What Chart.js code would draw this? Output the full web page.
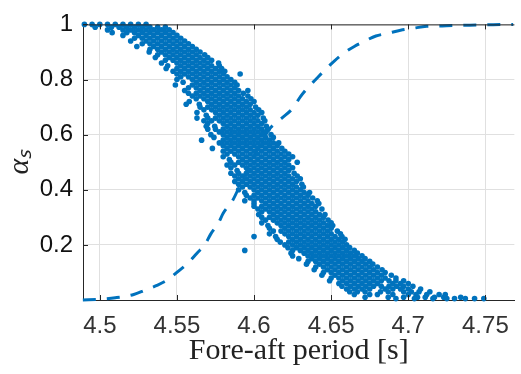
<!DOCTYPE html>
<html>
<head>
<meta charset="utf-8">
<script src="https://cdn.jsdelivr.net/npm/chart.js@4.4.0/dist/chart.umd.min.js"></script>
<style>
  html, body { margin: 0; padding: 0; background: #fff; }
</style>
</head>
<body>
<canvas id="chart" width="521" height="374"></canvas>
<script>
// alpha_s level of each row of samples
const alphaLevels = [1.00, 0.99, 0.98, 0.97, 0.96, 0.95, 0.94, 0.93, 0.92, 0.91,
  0.90, 0.89, 0.88, 0.87, 0.86, 0.85, 0.84, 0.83, 0.82, 0.81,
  0.80, 0.79, 0.78, 0.77, 0.76, 0.75, 0.74, 0.73, 0.72, 0.71,
  0.70, 0.69, 0.68, 0.67, 0.66, 0.65, 0.64, 0.63, 0.62, 0.61,
  0.60, 0.59, 0.58, 0.57, 0.56, 0.55, 0.54, 0.53, 0.52, 0.51,
  0.50, 0.49, 0.48, 0.47, 0.46, 0.45, 0.44, 0.43, 0.42, 0.41,
  0.40, 0.39, 0.38, 0.37, 0.36, 0.35, 0.34, 0.33, 0.32, 0.31,
  0.30, 0.29, 0.28, 0.27, 0.26, 0.25, 0.24, 0.23, 0.22, 0.21,
  0.20, 0.19, 0.18, 0.17, 0.16, 0.15, 0.14, 0.13, 0.12, 0.11,
  0.10, 0.09, 0.08, 0.07, 0.06, 0.05, 0.04, 0.03, 0.02, 0.01, 0.005];

// fore-aft periods of the samples in each row
const periodRows = [
  [4.490, 4.495, 4.500, 4.505, 4.510, 4.515, 4.520, 4.525, 4.530],
  [4.497, 4.5075, 4.5125, 4.5175, 4.5225, 4.5275, 4.5325, 4.5375, 4.5425],
  [4.505, 4.515, 4.520, 4.525, 4.530, 4.535, 4.540, 4.545],
  [4.508, 4.5175, 4.5225, 4.5275, 4.5325, 4.5375, 4.5425, 4.5475],
  [4.515, 4.525, 4.530, 4.535, 4.540, 4.545, 4.550],
  [4.5225, 4.5275, 4.5325, 4.5375, 4.5425, 4.5475, 4.5525],
  [4.520, 4.530, 4.535, 4.540, 4.545, 4.550, 4.555],
  [4.5275, 4.5325, 4.5375, 4.5425, 4.5475, 4.5525, 4.5575],
  [4.524, 4.535, 4.540, 4.545, 4.550, 4.555, 4.560],
  [4.5325, 4.5375, 4.5425, 4.5475, 4.5525, 4.5575, 4.5625],
  [4.532, 4.540, 4.545, 4.550, 4.555, 4.560, 4.565],
  [4.5375, 4.5425, 4.5475, 4.5525, 4.5575, 4.5625, 4.568],
  [4.536, 4.545, 4.550, 4.555, 4.560, 4.565, 4.570],
  [4.5425, 4.5475, 4.5525, 4.5575, 4.5625, 4.5675, 4.5725],
  [4.540, 4.550, 4.555, 4.560, 4.565, 4.570, 4.577],
  [4.544, 4.5525, 4.5575, 4.5625, 4.5675, 4.5725, 4.5775],
  [4.543, 4.550, 4.555, 4.560, 4.565, 4.570, 4.575, 4.579],
  [4.5475, 4.5525, 4.5575, 4.5625, 4.5675, 4.5725, 4.5775, 4.581],
  [4.550, 4.555, 4.560, 4.565, 4.570, 4.575, 4.580, 4.591],
  [4.5525, 4.5575, 4.5625, 4.5675, 4.5725, 4.5775, 4.5825],
  [4.550, 4.560, 4.565, 4.570, 4.575, 4.580, 4.585],
  [4.554, 4.5625, 4.5675, 4.5725, 4.5775, 4.5825, 4.5875],
  [4.549, 4.560, 4.565, 4.570, 4.575, 4.580, 4.585, 4.589],
  [4.5575, 4.5625, 4.5675, 4.5725, 4.5775, 4.5825, 4.5875],
  [4.555, 4.565, 4.570, 4.575, 4.580, 4.585, 4.590, 4.596],
  [4.5575, 4.5625, 4.5675, 4.5725, 4.5775, 4.5825, 4.5875, 4.593],
  [4.560, 4.565, 4.570, 4.575, 4.580, 4.585, 4.590, 4.596],
  [4.5625, 4.5675, 4.5725, 4.5775, 4.5825, 4.5875, 4.5925, 4.598],
  [4.558, 4.570, 4.575, 4.580, 4.585, 4.590, 4.595, 4.600],
  [4.556, 4.5645, 4.5725, 4.5775, 4.5825, 4.5875, 4.5925, 4.5975],
  [4.565, 4.570, 4.575, 4.580, 4.585, 4.590, 4.595, 4.601],
  [4.5675, 4.5725, 4.5775, 4.5825, 4.5875, 4.5925, 4.5975, 4.603],
  [4.563, 4.575, 4.580, 4.585, 4.590, 4.595, 4.600, 4.605],
  [4.569, 4.5775, 4.5825, 4.5875, 4.5925, 4.5975, 4.6025],
  [4.563, 4.570, 4.575, 4.580, 4.585, 4.590, 4.595, 4.600, 4.606],
  [4.5675, 4.5725, 4.5775, 4.5825, 4.5875, 4.5925, 4.5975, 4.6025, 4.607],
  [4.570, 4.580, 4.585, 4.590, 4.595, 4.600, 4.605],
  [4.569, 4.5745, 4.5825, 4.5875, 4.5925, 4.5975, 4.6025, 4.608],
  [4.570, 4.575, 4.580, 4.585, 4.590, 4.595, 4.600, 4.605, 4.609],
  [4.5775, 4.5825, 4.5875, 4.5925, 4.5975, 4.6025, 4.6075],
  [4.572, 4.580, 4.585, 4.590, 4.595, 4.600, 4.605, 4.611],
  [4.574, 4.5825, 4.5875, 4.5925, 4.5975, 4.6025, 4.6075, 4.6125],
  [4.566, 4.580, 4.585, 4.590, 4.595, 4.600, 4.605, 4.610],
  [4.5775, 4.5825, 4.5875, 4.5925, 4.5975, 4.6025, 4.6075, 4.6125, 4.616],
  [4.580, 4.585, 4.590, 4.595, 4.600, 4.605, 4.610, 4.615],
  [4.573, 4.5825, 4.5875, 4.5925, 4.5975, 4.6025, 4.6075, 4.6125, 4.618],
  [4.580, 4.585, 4.590, 4.595, 4.600, 4.605, 4.610, 4.615, 4.620],
  [4.5825, 4.5875, 4.5925, 4.5975, 4.6025, 4.6075, 4.6125, 4.6175, 4.6225],
  [4.580, 4.590, 4.595, 4.600, 4.605, 4.610, 4.615, 4.620, 4.625],
  [4.584, 4.5925, 4.5975, 4.6025, 4.6075, 4.6125, 4.6175, 4.6225],
  [4.585, 4.590, 4.595, 4.600, 4.605, 4.610, 4.615, 4.620, 4.628],
  [4.5825, 4.5875, 4.5925, 4.5975, 4.6025, 4.6075, 4.6125, 4.6175, 4.6225],
  [4.585, 4.595, 4.600, 4.605, 4.610, 4.615, 4.620, 4.625],
  [4.589, 4.5975, 4.6025, 4.6075, 4.6125, 4.6175, 4.6225],
  [4.585, 4.590, 4.595, 4.600, 4.605, 4.610, 4.615, 4.620, 4.626],
  [4.5875, 4.5925, 4.5975, 4.6025, 4.6075, 4.6125, 4.6175, 4.6225, 4.628],
  [4.590, 4.595, 4.600, 4.605, 4.610, 4.615, 4.620, 4.625, 4.630],
  [4.5875, 4.5925, 4.5975, 4.6025, 4.6075, 4.6125, 4.6175, 4.6225, 4.6275],
  [4.590, 4.595, 4.600, 4.605, 4.610, 4.615, 4.620, 4.625, 4.631],
  [4.5925, 4.5975, 4.6025, 4.6075, 4.6125, 4.6175, 4.6225, 4.6275, 4.632],
  [4.590, 4.600, 4.605, 4.610, 4.615, 4.620, 4.625, 4.630],
  [4.594, 4.6025, 4.6075, 4.6125, 4.6175, 4.6225, 4.6275, 4.6325, 4.636],
  [4.595, 4.600, 4.605, 4.610, 4.615, 4.620, 4.625, 4.630, 4.635],
  [4.5975, 4.6025, 4.6075, 4.6125, 4.6175, 4.6225, 4.6275, 4.6325, 4.638],
  [4.594, 4.600, 4.605, 4.610, 4.615, 4.620, 4.625, 4.630, 4.635, 4.641],
  [4.600, 4.6075, 4.6125, 4.6175, 4.6225, 4.6275, 4.6325, 4.6375, 4.642],
  [4.600, 4.605, 4.610, 4.615, 4.620, 4.625, 4.630, 4.635, 4.640],
  [4.6025, 4.6075, 4.6125, 4.6175, 4.6225, 4.6275, 4.6325, 4.6375, 4.644],
  [4.605, 4.610, 4.615, 4.620, 4.625, 4.630, 4.635, 4.640],
  [4.603, 4.6125, 4.6175, 4.6225, 4.6275, 4.6325, 4.6375, 4.6425, 4.646],
  [4.605, 4.610, 4.615, 4.620, 4.625, 4.630, 4.635, 4.640, 4.645],
  [4.6075, 4.6125, 4.6175, 4.6225, 4.6275, 4.6325, 4.6375, 4.6425, 4.648],
  [4.605, 4.615, 4.620, 4.625, 4.630, 4.635, 4.640, 4.645, 4.650],
  [4.609, 4.6175, 4.6225, 4.6275, 4.6325, 4.6375, 4.6425, 4.6475, 4.651],
  [4.610, 4.620, 4.625, 4.630, 4.635, 4.640, 4.645, 4.650],
  [4.6125, 4.6175, 4.6225, 4.6275, 4.6325, 4.6375, 4.6425, 4.6475, 4.654],
  [4.610, 4.620, 4.625, 4.630, 4.635, 4.640, 4.645, 4.650, 4.656],
  [4.600, 4.614, 4.6225, 4.6275, 4.6325, 4.6375, 4.6425, 4.6475, 4.6525, 4.657],
  [4.615, 4.625, 4.630, 4.635, 4.640, 4.645, 4.650, 4.655, 4.659],
  [4.617, 4.6225, 4.6275, 4.6325, 4.6375, 4.6425, 4.6475, 4.6525, 4.6575],
  [4.620, 4.625, 4.630, 4.635, 4.640, 4.645, 4.650, 4.655, 4.660],
  [4.622, 4.6275, 4.6325, 4.6375, 4.6425, 4.6475, 4.6525, 4.6575, 4.662],
  [4.594, 4.625, 4.630, 4.635, 4.640, 4.645, 4.650, 4.655, 4.660, 4.665],
  [4.624, 4.6325, 4.6375, 4.6425, 4.6475, 4.6525, 4.6575, 4.6625, 4.667],
  [4.625, 4.635, 4.640, 4.645, 4.650, 4.655, 4.660, 4.665, 4.670],
  [4.629, 4.6375, 4.6425, 4.6475, 4.6525, 4.6575, 4.6625, 4.6675, 4.672],
  [4.635, 4.640, 4.645, 4.650, 4.655, 4.660, 4.665, 4.670, 4.675],
  [4.634, 4.6425, 4.6475, 4.6525, 4.6575, 4.6625, 4.6675, 4.6725, 4.677],
  [4.640, 4.645, 4.650, 4.655, 4.660, 4.665, 4.670, 4.675, 4.680],
  [4.639, 4.6475, 4.6525, 4.6575, 4.6625, 4.6675, 4.6725, 4.6775, 4.683],
  [4.645, 4.650, 4.655, 4.660, 4.665, 4.670, 4.675, 4.680, 4.685],
  [4.644, 4.6525, 4.6575, 4.6625, 4.6675, 4.6725, 4.6775, 4.6825, 4.689],
  [4.650, 4.655, 4.660, 4.665, 4.670, 4.675, 4.680, 4.685, 4.692],
  [4.649, 4.6575, 4.6625, 4.6675, 4.6725, 4.6775, 4.6825, 4.6875, 4.692, 4.697],
  [4.655, 4.660, 4.665, 4.670, 4.675, 4.680, 4.690, 4.695, 4.700],
  [4.657, 4.6625, 4.6675, 4.6725, 4.6775, 4.6825, 4.6875, 4.6925, 4.697, 4.703],
  [4.660, 4.665, 4.670, 4.675, 4.685, 4.690, 4.695, 4.700, 4.708],
  [4.662, 4.667, 4.672, 4.682, 4.687, 4.697, 4.702, 4.707, 4.714],
  [4.665, 4.675, 4.680, 4.690, 4.700, 4.705, 4.712, 4.720, 4.724],
  [4.672, 4.687, 4.697, 4.706, 4.711, 4.717, 4.723, 4.734],
  [4.692, 4.704, 4.716, 4.725, 4.730, 4.737, 4.743, 4.749]
];

// dashed curve
const curvePeriod = [4.489, 4.500, 4.510, 4.522, 4.529, 4.537, 4.545, 4.551, 4.557, 4.563,
  4.568, 4.572, 4.577, 4.580, 4.586, 4.592, 4.598, 4.604, 4.610, 4.618,
  4.625, 4.630, 4.634, 4.640, 4.646, 4.652, 4.658, 4.665, 4.671, 4.679,
  4.687, 4.695, 4.703, 4.712, 4.720, 4.729, 4.740, 4.755, 4.768];
const curveAlpha = [0.000, 0.003, 0.008, 0.020, 0.035, 0.053, 0.077, 0.105, 0.133, 0.170,
  0.200, 0.240, 0.280, 0.315, 0.360, 0.430, 0.500, 0.565, 0.620, 0.660,
  0.695, 0.737, 0.765, 0.800, 0.835, 0.867, 0.895, 0.920, 0.937, 0.958,
  0.968, 0.979, 0.986, 0.993, 0.994, 0.996, 0.997, 0.999, 1.000];

const xTicks = [4.5, 4.55, 4.6, 4.65, 4.7, 4.75];
const yTicks = [0.2, 0.4, 0.6, 0.8, 1];

const blue = '#0072BD';
const axisColor = '#262626';

var samples = [];
alphaLevels.forEach(function (a, i) {
    periodRows[i].forEach(function (p) { samples.push({ x: p, y: a }); });
});
var curve = curvePeriod.map(function (p, i) { return { x: p, y: curveAlpha[i] }; });

// box top edge and inward tick marks, like the original axes
const frame = {
    id: 'frame',
    afterDraw: function (chart) {
        const ctx = chart.ctx, a = chart.chartArea;
        const x = chart.scales.x, y = chart.scales.y;
        ctx.save();
        ctx.strokeStyle = axisColor;
        ctx.lineWidth = 1;
        ctx.beginPath();
        ctx.moveTo(a.left, a.top + 0.5);
        ctx.lineTo(a.right, a.top + 0.5);
        xTicks.forEach(function (v) {
            const px = Math.round(x.getPixelForValue(v)) + 0.5;
            ctx.moveTo(px, a.bottom); ctx.lineTo(px, a.bottom - 5);
            ctx.moveTo(px, a.top); ctx.lineTo(px, a.top + 5);
        });
        yTicks.forEach(function (v) {
            const py = Math.round(y.getPixelForValue(v)) + 0.5;
            ctx.moveTo(a.left, py); ctx.lineTo(a.left + 5, py);
        });
        ctx.stroke();
        ctx.restore();
    }
};

new Chart(document.getElementById('chart'), {
    type: 'scatter',
    data: {
        datasets: [{
            data: samples,
            order: 0,
            pointRadius: 2.8,
            pointBorderWidth: 0,
            pointBackgroundColor: blue,
            showLine: false,
            clip: false
        }, {
            data: curve,
            order: 1,
            showLine: true,
            borderColor: blue,
            borderWidth: 3,
            borderDash: [13, 11],
            pointRadius: 0,
            cubicInterpolationMode: 'monotone',
            clip: false
        }]
    },
    options: {
        responsive: false,
        animation: false,
        events: [],
        layout: { padding: { top: 15, right: 0, bottom: 0, left: 0 } },
        plugins: { legend: { display: false }, tooltip: { enabled: false } },
        scales: {
            x: {
                type: 'linear',
                min: 4.4891,
                max: 4.7688,
                afterBuildTicks: function (s) { s.ticks = xTicks.map(function (v) { return { value: v }; }); },
                afterFit: function (s) { s.height = 74; },
                grid: { color: '#e0e0e0', drawTicks: false },
                border: { color: axisColor, width: 1 },
                ticks: {
                    padding: 12,
                    color: '#333',
                    font: { family: 'Liberation Sans', size: 24 },
                    callback: function (v) { return String(v); }
                },
                title: {
                    display: true,
                    text: 'Fore-aft period [s]',
                    color: '#222',
                    font: { family: 'Liberation Serif', size: 30 },
                    padding: { top: 0, bottom: 5 }
                }
            },
            y: {
                min: 0,
                max: 1,
                afterBuildTicks: function (s) { s.ticks = yTicks.map(function (v) { return { value: v }; }); },
                afterFit: function (s) { s.width = 83; },
                grid: { color: '#e0e0e0', drawTicks: false },
                border: { color: axisColor, width: 1 },
                ticks: {
                    padding: 10,
                    color: '#111',
                    font: { family: 'Liberation Sans', size: 24 },
                    callback: function (v) { return String(v); }
                },
                title: {
                    display: true,
                    text: 'αₛ',
                    color: '#222',
                    font: { family: 'Liberation Serif', style: 'italic', size: 30 },
                    padding: { top: 2, bottom: 0 }
                }
            }
        }
    },
    plugins: [frame]
});
</script>
</body>
</html>
